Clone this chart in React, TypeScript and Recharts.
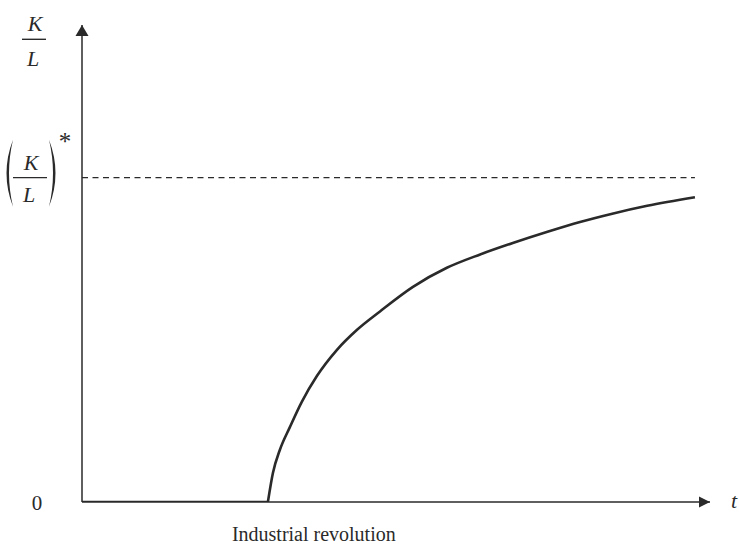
import React from "react";
import { LineChart, Line, XAxis, YAxis, ReferenceDot, ReferenceLine } from "recharts";

// time axis (arbitrary units) and capital per worker (arbitrary units)
const flatT = [0, 29.6];
const flatK = [0, 0];
const curveT = [29.6, 30.4, 31.5, 33.1, 35.0, 37.4, 40.6, 43.8, 47.5, 52.7, 58.1, 63.4, 68.6, 74.0, 79.3, 84.6, 90.0, 97.6];
const curveK = [0, 6.1, 10.9, 15.7, 21.0, 26.4, 31.9, 36.1, 40.0, 45.1, 49.1, 51.9, 54.3, 56.6, 58.7, 60.5, 62.1, 63.9];
const steadyK = 68;
const steadyEndT = 97.6;
const revolutionT = 29.6;
const yTicks = [0, steadyK, 97];
const xLabel = "Industrial revolution";
const tLabel = "t";

const flatData = flatT.map((t, i) => ({ t, k: flatK[i] }));
const curveData = curveT.map((t, i) => ({ t, k: curveK[i] }));

if (typeof document !== "undefined") {
  document.body.style.margin = "0";
}

const FONT = "'Liberation Serif', 'Times New Roman', serif";
const INK = "#2a2a2a";

const paren = (x0: number, top: number, bottom: number, dir: number) => {
  const mid = (top + bottom) / 2;
  const outer = x0 - dir * 13;
  const inner = x0 - dir * 8;
  return `M ${x0} ${top} Q ${outer} ${mid} ${x0} ${bottom} Q ${inner} ${mid} ${x0} ${top} Z`;
};

const YTick = (props: any) => {
  const { y, payload } = props;
  const v = payload.value;
  if (v === 0) {
    return (
      <text x={37} y={y + 8} textAnchor="middle" fontFamily={FONT} fontSize={21} fill={INK}>0</text>
    );
  }
  if (v === steadyK) {
    return (
      <g fill={INK} fontFamily={FONT}>
        <path d={paren(13, y - 38, y + 29, 1)} fill={INK} />
        <path d={paren(49, y - 38, y + 29, -1)} fill={INK} />
        <line x1={13} x2={47} y1={y} y2={y} stroke={INK} strokeWidth={1.4} />
        <text x={31} y={y - 8} textAnchor="middle" fontSize={22} fontStyle="italic">K</text>
        <text x={29} y={y + 24} textAnchor="middle" fontSize={22} fontStyle="italic">L</text>
        <text x={65} y={y - 28} textAnchor="middle" fontSize={25}>*</text>
      </g>
    );
  }
  return (
    <g fill={INK} fontFamily={FONT}>
      <line x1={22} x2={46} y1={y} y2={y} stroke={INK} strokeWidth={1.4} />
      <text x={35} y={y - 8} textAnchor="middle" fontSize={22} fontStyle="italic">K</text>
      <text x={33} y={y + 27} textAnchor="middle" fontSize={22} fontStyle="italic">L</text>
    </g>
  );
};

const XTick = (props: any) => {
  const { x, y } = props;
  return (
    <text x={x - 36} y={y + 31} textAnchor="start" fontFamily={FONT} fontSize={20} fill={INK}>
      {xLabel}
    </text>
  );
};

const XArrow = (props: any) => {
  const { cx, cy } = props;
  return (
    <g>
      <path d={`M ${cx} ${cy} L ${cx - 11} ${cy - 5.5} L ${cx - 11} ${cy + 5.5} Z`} fill={INK} />
      <text x={cx + 24} y={cy + 6} textAnchor="middle" fontFamily={FONT} fontSize={22} fontStyle="italic" fill={INK}>
        {tLabel}
      </text>
    </g>
  );
};

const YArrow = (props: any) => {
  const { cx, cy } = props;
  return <path d={`M ${cx} ${cy} L ${cx - 6.5} ${cy + 11} L ${cx + 6.5} ${cy + 11} Z`} fill={INK} />;
};

export default function App() {
  return (
    <div style={{ width: 739, height: 544, background: "#fff" }}>
      <LineChart
        width={739}
        height={544}
        margin={{ top: 25, right: 29, bottom: 12, left: 0 }}
        style={{ overflow: "visible" }}
      >
        <XAxis
          type="number"
          dataKey="t"
          domain={[0, 100]}
          allowDataOverflow
          ticks={[revolutionT]}
          tick={<XTick />}
          tickLine={false}
          height={30}
          axisLine={{ stroke: INK, strokeWidth: 1.5 }}
        />
        <YAxis
          type="number"
          dataKey="k"
          domain={[0, 100]}
          allowDataOverflow
          ticks={yTicks}
          tick={<YTick />}
          tickLine={false}
          width={82}
          axisLine={{ stroke: INK, strokeWidth: 1.5 }}
        />
        <ReferenceLine
          segment={[{ x: 0, y: steadyK }, { x: steadyEndT, y: steadyK }]}
          stroke={INK}
          strokeWidth={1.2}
          strokeDasharray="6 4.5"
          ifOverflow="visible"
        />
        <Line
          data={flatData}
          dataKey="k"
          type="linear"
          stroke={INK}
          strokeWidth={2.6}
          dot={false}
          activeDot={false}
          isAnimationActive={false}
        />
        <Line
          data={curveData}
          dataKey="k"
          type="monotone"
          stroke={INK}
          strokeWidth={2.6}
          dot={false}
          activeDot={false}
          isAnimationActive={false}
        />
        <ReferenceDot x={100} y={0} r={0} shape={<XArrow />} ifOverflow="visible" />
        <ReferenceDot x={0} y={100} r={0} shape={<YArrow />} ifOverflow="visible" />
      </LineChart>
    </div>
  );
}
